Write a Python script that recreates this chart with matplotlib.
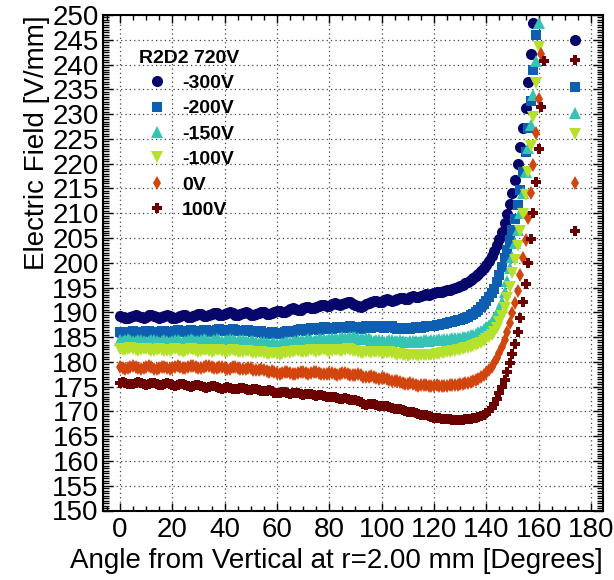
import numpy as np
import matplotlib
matplotlib.use("Agg")
import matplotlib.pyplot as plt
from matplotlib.ticker import MultipleLocator

plt.rcParams['font.family'] = ['Liberation Sans', 'DejaVu Sans']

## campo electrico vs angulo, un punto por grado desde 0 ##
field_m300 = [
    189.3, 189.1, 188.9, 188.8, 189.0, 189.3, 189.4, 189.2, 189.0, 188.9,
    189.1, 189.4, 189.5, 189.3, 189.0, 188.9, 189.0, 189.3, 189.4, 189.2,
    188.9, 188.8, 189.0, 189.3, 189.5, 189.4, 189.1, 189.0, 189.2, 189.5,
    189.7, 189.6, 189.3, 189.2, 189.4, 189.7, 189.9, 189.8, 189.5, 189.4,
    189.6, 189.9, 190.0, 189.8, 189.5, 189.4, 189.6, 189.9, 190.0, 189.8,
    189.5, 189.4, 189.6, 189.9, 190.1, 190.0, 189.7, 189.6, 189.8, 190.1,
    190.3, 190.2, 190.0, 190.0, 190.3, 190.6, 190.8, 190.6, 190.4, 190.5,
    190.8, 191.1, 191.1, 190.9, 190.8, 191.0, 191.3, 191.5, 191.4, 191.2,
    191.3, 191.6, 191.8, 191.7, 191.5, 191.6, 191.9, 192.1, 192.0, 191.7,
    191.4, 191.2, 191.1, 191.3, 191.6, 191.9, 192.1, 192.3, 192.2, 192.0,
    192.1, 192.4, 192.6, 192.5, 192.3, 192.4, 192.7, 192.9, 192.8, 192.6,
    192.7, 193.0, 193.2, 193.1, 193.0, 193.2, 193.5, 193.6, 193.5, 193.6,
    193.8, 194.0, 194.1, 194.1, 194.2, 194.5, 194.6, 194.8, 195.0, 195.2,
    195.4, 195.6, 195.9, 196.2, 196.5, 196.9, 197.3, 197.8, 198.3, 198.9,
    199.6, 200.4, 201.3, 202.3, 203.5, 204.8, 206.3, 208.1, 209.8, 211.8,
    214.1, 216.7, 220.0, 223.4, 227.1, 231.3, 236.4, 242.2, 248.3]

field_m200 = [
    186.0, 185.9, 185.8, 185.9, 186.1, 186.2, 186.0, 185.8, 185.8, 186.0,
    186.2, 186.3, 186.1, 185.9, 185.9, 186.1, 186.3, 186.2, 186.0, 185.9,
    186.1, 186.3, 186.4, 186.2, 186.0, 186.0, 186.2, 186.4, 186.3, 186.1,
    186.0, 186.2, 186.5, 186.5, 186.3, 186.1, 186.2, 186.4, 186.6, 186.5,
    186.3, 186.2, 186.4, 186.6, 186.5, 186.3, 186.2, 186.3, 186.5, 186.4,
    186.2, 186.0, 186.1, 186.3, 186.2, 185.9, 185.7, 185.8, 186.0, 185.9,
    185.7, 185.6, 185.8, 186.1, 186.2, 186.1, 186.0, 186.2, 186.5, 186.6,
    186.4, 186.3, 186.5, 186.8, 186.8, 186.6, 186.5, 186.7, 187.0, 186.9,
    186.7, 186.6, 186.8, 187.1, 187.1, 186.9, 186.8, 187.0, 187.2, 187.1,
    186.8, 186.6, 186.7, 187.0, 187.2, 187.1, 186.9, 187.0, 187.3, 187.3,
    187.1, 186.9, 187.0, 187.3, 187.2, 186.9, 186.7, 186.7, 186.9, 186.9,
    186.7, 186.6, 186.8, 187.0, 187.0, 186.9, 187.0, 187.2, 187.3, 187.3,
    187.3, 187.4, 187.5, 187.6, 187.7, 187.9, 188.0, 188.1, 188.3, 188.4,
    188.5, 188.7, 188.9, 189.1, 189.4, 189.7, 190.1, 190.5, 191.0, 191.6,
    192.3, 193.0, 193.8, 194.7, 196.1, 197.6, 199.2, 200.9, 202.6, 204.6,
    206.6, 208.8, 211.6, 214.7, 218.3, 222.4, 227.1, 232.7, 238.9, 245.9]

field_m150 = [
    184.4, 184.3, 184.5, 184.6, 184.4, 184.2, 184.3, 184.5, 184.4, 184.2,
    184.1, 184.3, 184.5, 184.4, 184.2, 184.1, 184.3, 184.4, 184.3, 184.1,
    184.2, 184.4, 184.5, 184.3, 184.1, 184.2, 184.4, 184.6, 184.5, 184.3,
    184.2, 184.4, 184.6, 184.5, 184.3, 184.3, 184.5, 184.6, 184.4, 184.2,
    184.3, 184.5, 184.6, 184.4, 184.2, 184.3, 184.5, 184.4, 184.2, 184.1,
    184.2, 184.3, 184.1, 183.9, 184.0, 184.1, 183.9, 183.7, 183.8, 183.9,
    183.7, 183.6, 183.8, 184.0, 184.1, 184.0, 184.1, 184.3, 184.4, 184.3,
    184.2, 184.4, 184.6, 184.5, 184.3, 184.4, 184.6, 184.7, 184.6, 184.5,
    184.7, 184.8, 184.7, 184.6, 184.8, 185.0, 184.9, 184.8, 185.0, 185.1,
    185.0, 184.8, 184.6, 184.7, 184.9, 184.8, 184.5, 184.3, 184.4, 184.5,
    184.3, 184.1, 184.2, 184.4, 184.5, 184.3, 184.2, 184.4, 184.3, 184.1,
    184.0, 184.2, 184.3, 184.2, 184.1, 184.2, 184.4, 184.4, 184.3, 184.4,
    184.4, 184.5, 184.6, 184.5, 184.6, 184.7, 184.7, 184.8, 184.8, 184.9,
    184.9, 185.0, 185.1, 185.2, 185.4, 185.5, 185.7, 186.0, 186.3, 186.6,
    187.0, 187.5, 188.1, 188.8, 189.6, 190.6, 192.1, 194.0, 196.3, 198.9,
    201.2, 203.9, 206.6, 210.0, 214.0, 218.3, 223.1, 227.8, 233.8, 240.7,
    248.3]

field_m100 = [
    182.6, 182.4, 182.3, 182.5, 182.7, 182.6, 182.4, 182.2, 182.3, 182.5,
    182.6, 182.4, 182.2, 182.1, 182.3, 182.5, 182.4, 182.2, 182.1, 182.2,
    182.4, 182.5, 182.3, 182.1, 182.0, 182.2, 182.4, 182.5, 182.3, 182.1,
    182.0, 182.2, 182.4, 182.4, 182.2, 182.0, 182.1, 182.3, 182.4, 182.2,
    182.0, 181.9, 182.1, 182.3, 182.2, 182.0, 181.9, 182.0, 182.2, 182.1,
    181.9, 181.7, 181.8, 182.0, 181.9, 181.7, 181.5, 181.6, 181.8, 181.7,
    181.5, 181.4, 181.6, 181.8, 181.9, 181.8, 181.9, 182.1, 182.2, 182.0,
    181.9, 182.0, 182.2, 182.3, 182.1, 182.0, 182.1, 182.3, 182.3, 182.1,
    182.0, 182.1, 182.3, 182.4, 182.2, 182.1, 182.3, 182.5, 182.4, 182.2,
    182.1, 181.9, 181.7, 181.8, 182.0, 181.9, 181.8, 181.9, 182.0, 181.9,
    181.8, 181.7, 181.8, 181.9, 181.7, 181.5, 181.4, 181.5, 181.4, 181.3,
    181.2, 181.3, 181.4, 181.3, 181.2, 181.3, 181.4, 181.4, 181.3, 181.4,
    181.4, 181.5, 181.6, 181.7, 181.8, 181.9, 182.0, 182.1, 182.2, 182.3,
    182.4, 182.5, 182.7, 182.8, 183.0, 183.2, 183.4, 183.6, 183.9, 184.2,
    184.6, 185.0, 185.5, 186.1, 186.9, 188.0, 189.3, 190.9, 192.8, 195.2,
    197.9, 200.5, 203.4, 206.5, 209.8, 213.7, 218.3, 223.5, 229.4, 236.2,
    243.6]

field_0 = [
    179.0, 178.8, 178.6, 178.7, 179.0, 179.1, 178.9, 178.7, 178.6, 178.8,
    179.0, 179.1, 178.9, 178.6, 178.5, 178.7, 178.9, 179.0, 178.8, 178.6,
    178.7, 178.9, 179.1, 179.0, 178.8, 178.7, 178.9, 179.1, 179.2, 179.0,
    178.8, 178.7, 178.9, 179.1, 179.1, 178.9, 178.7, 178.8, 179.0, 178.9,
    178.7, 178.5, 178.6, 178.9, 179.0, 178.8, 178.6, 178.5, 178.6, 178.8,
    178.7, 178.4, 178.3, 178.4, 178.5, 178.3, 178.1, 178.0, 178.1, 178.0,
    177.8, 177.6, 177.7, 177.9, 178.0, 177.8, 177.6, 177.5, 177.7, 177.9,
    177.9, 177.7, 177.6, 177.7, 177.9, 178.0, 177.8, 177.6, 177.5, 177.6,
    177.8, 177.8, 177.6, 177.4, 177.5, 177.7, 177.8, 177.6, 177.4, 177.3,
    177.4, 177.5, 177.3, 177.0, 176.9, 177.0, 177.1, 176.9, 176.7, 176.6,
    176.7, 176.8, 176.6, 176.4, 176.2, 176.2, 176.1, 175.9, 175.7, 175.6,
    175.6, 175.7, 175.5, 175.3, 175.2, 175.3, 175.4, 175.3, 175.1, 175.1,
    175.2, 175.3, 175.2, 175.1, 175.1, 175.2, 175.3, 175.3, 175.3, 175.4,
    175.5, 175.6, 175.7, 175.8, 175.9, 176.1, 176.3, 176.6, 176.9, 177.3,
    177.8, 178.3, 179.0, 179.8, 180.7, 181.8, 183.0, 184.4, 186.0, 187.8,
    189.8, 191.8, 194.3, 197.5, 200.9, 204.6, 209.0, 214.0, 219.8, 226.1,
    233.1, 242.2]

field_p100 = [
    175.7, 175.9, 175.8, 175.6, 175.5, 175.6, 175.8, 175.9, 175.7, 175.5,
    175.4, 175.6, 175.8, 175.7, 175.5, 175.3, 175.4, 175.6, 175.7, 175.5,
    175.3, 175.2, 175.3, 175.5, 175.5, 175.3, 175.1, 175.0, 175.1, 175.3,
    175.3, 175.1, 174.9, 174.8, 174.9, 175.1, 175.1, 174.9, 174.7, 174.6,
    174.8, 174.9, 174.8, 174.6, 174.5, 174.6, 174.8, 174.8, 174.6, 174.4,
    174.4, 174.6, 174.6, 174.4, 174.2, 174.1, 174.2, 174.3, 174.1, 173.8,
    173.7, 173.8, 174.0, 173.9, 173.7, 173.6, 173.7, 173.8, 173.7, 173.5,
    173.4, 173.5, 173.6, 173.5, 173.3, 173.2, 173.3, 173.3, 173.1, 172.9,
    172.9, 173.0, 173.0, 172.8, 172.6, 172.6, 172.7, 172.6, 172.4, 172.2,
    172.2, 172.1, 171.8, 171.4, 171.3, 171.4, 171.5, 171.4, 171.2, 171.0,
    171.0, 171.1, 171.0, 170.8, 170.6, 170.5, 170.5, 170.4, 170.2, 170.0,
    169.9, 169.9, 169.8, 169.6, 169.4, 169.3, 169.3, 169.2, 169.0, 168.8,
    168.7, 168.7, 168.6, 168.5, 168.4, 168.4, 168.4, 168.3, 168.3, 168.3,
    168.3, 168.3, 168.4, 168.4, 168.5, 168.6, 168.7, 168.8, 169.0, 169.3,
    169.6, 170.0, 170.6, 171.4, 172.5, 173.7, 175.0, 176.4, 178.0, 179.7,
    181.6, 183.7, 186.1, 188.9, 192.1, 195.7, 199.9, 204.7, 210.0, 216.2,
    222.9, 231.5, 240.7]

## puntos sueltos cerca de 174 grados ##
tail_angle = 174.0
tail_m300 = [245.0]
tail_m200 = [235.4]
tail_m150 = [230.3]
tail_m100 = [225.9]
tail_0 = [216.0]
tail_p100 = [241.0, 206.5]

labels = ["-300V", "-200V", "-150V", "-100V", "0V", "100V"]
series = [(field_m300, tail_m300), (field_m200, tail_m200), (field_m150, tail_m150),
          (field_m100, tail_m100), (field_0, tail_0), (field_p100, tail_p100)]
colores = ["#06066b", "#0e5fb2", "#35c4b3", "#b5e02b", "#d2450e", "#6c0000"]
marcas = ["o", "s", "^", "v", "d", "P"]
tamanos = [8.0, 7.0, 8.0, 8.0, 7.6, 7.8]

fig = plt.figure(figsize=(6.14, 5.80), dpi=100)
ax = fig.add_axes([103/614, 1 - 510.5/580, 500/614, 495.5/580])

for (vals, tail), lab, c, m, s in zip(series, labels, colores, marcas, tamanos):
    ang = np.concatenate([np.arange(len(vals)), np.full(len(tail), tail_angle)])
    y = np.concatenate([vals, tail])
    ax.plot(ang, y, linestyle="none", marker=m, ms=s, color=c, mew=0, label=lab)

ax.set_xlim(-6.5, 184.6)
ax.set_ylim(150, 250)
ax.xaxis.set_major_locator(MultipleLocator(20))
ax.xaxis.set_minor_locator(MultipleLocator(5))
ax.yaxis.set_major_locator(MultipleLocator(5))
ax.yaxis.set_minor_locator(MultipleLocator(0.5))
ax.tick_params(which="both", direction="in", top=True, right=True, width=1)
ax.tick_params(axis="x", which="major", length=6, labelsize=20, pad=5)
ax.tick_params(axis="x", which="minor", length=3.5)
ax.tick_params(axis="y", which="major", length=7, labelsize=20, pad=3)
ax.tick_params(axis="y", which="minor", length=4)
ax.grid(which="major", linestyle=(0, (1, 2.5)), color="#444444", linewidth=0.9)
for sp in ax.spines.values():
    sp.set_linewidth(1.5)

ax.set_xlabel("Angle from Vertical at r=2.00 mm [Degrees]", fontsize=20, loc="right", labelpad=3)
ax.set_ylabel("Electric Field [V/mm]", fontsize=20, loc="top", labelpad=2)

ax.legend(title="R2D2 720V", loc="upper left", bbox_to_anchor=(0.072, 0.93),
          frameon=False, prop={"weight": "bold", "size": 14},
          title_fontproperties={"weight": "bold", "size": 14}, alignment="left",
          handlelength=1.85, handletextpad=0.35, labelspacing=0.4,
          borderpad=0, borderaxespad=0, numpoints=1)

plt.savefig("out.png", dpi=100)
